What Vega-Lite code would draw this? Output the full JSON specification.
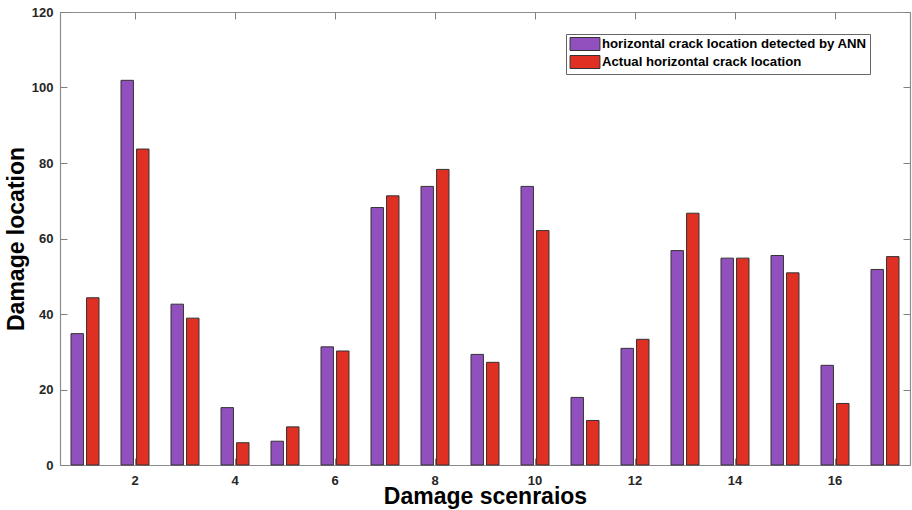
{
  "$schema": "https://vega.github.io/schema/vega-lite/v6.json",
  "width": 850,
  "height": 453,
  "autosize": "none",
  "padding": {"left": 60, "top": 12, "right": 2, "bottom": 45},
  "background": "white",
  "config": {
    "font": "Liberation Sans",
    "view": {"stroke": null},
    "axis": {"grid": false}
  },
  "data": {
    "values": [
      {"scenario": 1, "series": "horizontal crack location detected by ANN", "value": 34.8},
      {"scenario": 1, "series": "Actual horizontal crack location", "value": 44.3},
      {"scenario": 2, "series": "horizontal crack location detected by ANN", "value": 101.9},
      {"scenario": 2, "series": "Actual horizontal crack location", "value": 83.7},
      {"scenario": 3, "series": "horizontal crack location detected by ANN", "value": 42.6},
      {"scenario": 3, "series": "Actual horizontal crack location", "value": 38.9},
      {"scenario": 4, "series": "horizontal crack location detected by ANN", "value": 15.2},
      {"scenario": 4, "series": "Actual horizontal crack location", "value": 5.9},
      {"scenario": 5, "series": "horizontal crack location detected by ANN", "value": 6.3},
      {"scenario": 5, "series": "Actual horizontal crack location", "value": 10.1},
      {"scenario": 6, "series": "horizontal crack location detected by ANN", "value": 31.3},
      {"scenario": 6, "series": "Actual horizontal crack location", "value": 30.2},
      {"scenario": 7, "series": "horizontal crack location detected by ANN", "value": 68.2},
      {"scenario": 7, "series": "Actual horizontal crack location", "value": 71.3},
      {"scenario": 8, "series": "horizontal crack location detected by ANN", "value": 73.8},
      {"scenario": 8, "series": "Actual horizontal crack location", "value": 78.3},
      {"scenario": 9, "series": "horizontal crack location detected by ANN", "value": 29.3},
      {"scenario": 9, "series": "Actual horizontal crack location", "value": 27.2},
      {"scenario": 10, "series": "horizontal crack location detected by ANN", "value": 73.8},
      {"scenario": 10, "series": "Actual horizontal crack location", "value": 62.1},
      {"scenario": 11, "series": "horizontal crack location detected by ANN", "value": 17.9},
      {"scenario": 11, "series": "Actual horizontal crack location", "value": 11.8},
      {"scenario": 12, "series": "horizontal crack location detected by ANN", "value": 30.9},
      {"scenario": 12, "series": "Actual horizontal crack location", "value": 33.3},
      {"scenario": 13, "series": "horizontal crack location detected by ANN", "value": 56.8},
      {"scenario": 13, "series": "Actual horizontal crack location", "value": 66.7},
      {"scenario": 14, "series": "horizontal crack location detected by ANN", "value": 54.8},
      {"scenario": 14, "series": "Actual horizontal crack location", "value": 54.8},
      {"scenario": 15, "series": "horizontal crack location detected by ANN", "value": 55.5},
      {"scenario": 15, "series": "Actual horizontal crack location", "value": 50.9},
      {"scenario": 16, "series": "horizontal crack location detected by ANN", "value": 26.4},
      {"scenario": 16, "series": "Actual horizontal crack location", "value": 16.3},
      {"scenario": 17, "series": "horizontal crack location detected by ANN", "value": 51.8},
      {"scenario": 17, "series": "Actual horizontal crack location", "value": 55.2}
    ]
  },
  "encoding": {
    "x": {
      "field": "scenario",
      "type": "ordinal",
      "scale": {"paddingInner": 0.44, "paddingOuter": 0.22}
    },
    "y": {
      "field": "value",
      "type": "quantitative",
      "scale": {"domain": [0, 120], "nice": false}
    }
  },
  "layer": [
    {
      "mark": {"type": "bar", "stroke": "#333333", "strokeWidth": 1},
      "encoding": {
        "x": {
          "field": "scenario",
          "type": "ordinal",
          "scale": {"paddingInner": 0.44, "paddingOuter": 0.22},
          "axis": {
            "orient": "bottom",
            "values": [2, 4, 6, 8, 10, 12, 14, 16],
            "labelAngle": 0,
            "labelFont": "Liberation Sans",
            "labelFontWeight": "bold",
            "labelFontSize": 13,
            "labelColor": "#262626",
            "labelPadding": 16,
            "tickSize": -7,
            "tickColor": "#808080",
            "domainColor": "#8c8c8c",
            "domainWidth": 1.2,
            "title": "Damage scenraios",
            "titleFont": "Liberation Sans",
            "titleFontSize": 23,
            "titleFontWeight": "bold",
            "titleColor": "#000000",
            "titlePadding": -2
          }
        },
        "y": {
          "field": "value",
          "type": "quantitative",
          "scale": {"domain": [0, 120], "nice": false},
          "axis": {
            "orient": "left",
            "values": [0, 20, 40, 60, 80, 100, 120],
            "labelFont": "Liberation Sans",
            "labelFontWeight": "bold",
            "labelFontSize": 13,
            "labelColor": "#262626",
            "labelPadding": 14,
            "tickSize": -7,
            "tickColor": "#808080",
            "domainColor": "#8c8c8c",
            "domainWidth": 1.2,
            "title": "Damage location",
            "titleFont": "Liberation Sans",
            "titleFontSize": 23,
            "titleFontWeight": "bold",
            "titleColor": "#000000",
            "titlePadding": 3
          }
        },
        "xOffset": {
          "field": "series",
          "type": "nominal",
          "scale": {
            "domain": ["horizontal crack location detected by ANN", "Actual horizontal crack location"],
            "paddingInner": 0.2,
            "paddingOuter": 0
          }
        },
        "color": {
          "field": "series",
          "type": "nominal",
          "scale": {
            "domain": ["horizontal crack location detected by ANN", "Actual horizontal crack location"],
            "range": ["#9150bd", "#e03024"]
          },
          "legend": {
            "title": null,
            "orient": "none",
            "legendX": 506,
            "legendY": 22,
            "direction": "vertical",
            "symbolType": "M-2.3,-1H2.3V1H-2.3Z",
            "symbolSize": 169,
            "symbolStrokeColor": "#333333",
            "symbolStrokeWidth": 1,
            "symbolOpacity": 1,
            "symbolOffset": 9,
            "labelOffset": 10,
            "labelFont": "Liberation Sans",
            "labelFontWeight": "bold",
            "labelFontSize": 13.2,
            "labelColor": "#000000",
            "labelLimit": 400,
            "rowPadding": 0,
            "padding": 3,
            "strokeColor": "#666666",
            "fillColor": "#ffffff"
          }
        }
      }
    },
    {
      "mark": {"type": "tick", "opacity": 0},
      "encoding": {
        "x": {
          "field": "scenario",
          "type": "ordinal",
          "scale": {"paddingInner": 0.44, "paddingOuter": 0.22},
          "axis": {
            "orient": "top",
            "values": [2, 4, 6, 8, 10, 12, 14, 16],
            "labels": false,
            "tickSize": -7,
            "tickColor": "#808080",
            "domainColor": "#8c8c8c",
            "domainWidth": 1.2,
            "title": null
          }
        },
        "y": {
          "field": "value",
          "type": "quantitative",
          "scale": {"domain": [0, 120], "nice": false},
          "axis": {
            "orient": "right",
            "values": [0, 20, 40, 60, 80, 100, 120],
            "labels": false,
            "tickSize": -7,
            "tickColor": "#808080",
            "domainColor": "#8c8c8c",
            "domainWidth": 1.2,
            "title": null
          }
        }
      }
    }
  ],
  "resolve": {"axis": {"x": "independent", "y": "independent"}}
}
